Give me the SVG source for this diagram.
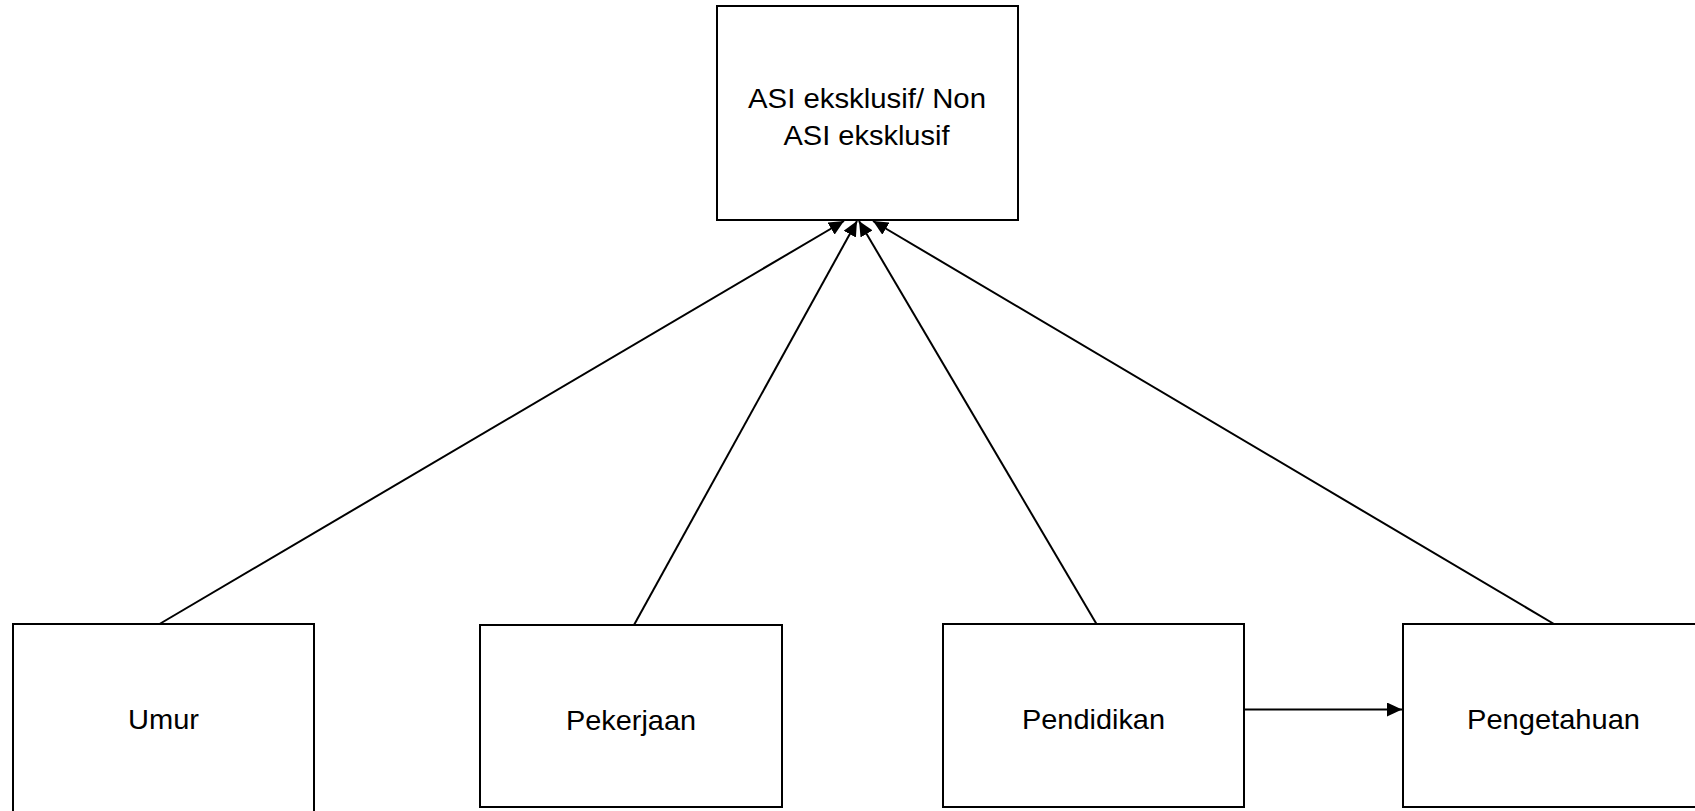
<svg xmlns="http://www.w3.org/2000/svg" width="1695" height="811" viewBox="0 0 1695 811">
<style>
.box{fill:#fff;stroke:#000;stroke-width:2}
.lbl{font-family:"Liberation Sans",Arial,sans-serif;font-size:28px;fill:#000;text-anchor:middle}
.conn{stroke:#000;stroke-width:2;fill:none;marker-end:url(#ah)}
</style>
<defs>
<marker id="ah" markerUnits="userSpaceOnUse" markerWidth="16" markerHeight="14" refX="15" refY="7" orient="auto">
<path d="M0,0 L15,7 L0,14 Z" fill="#000"/>
</marker>
</defs>
<rect width="1695" height="811" fill="#fff"/>
<g id="node-asi">
<rect class="box" x="717" y="6" width="301" height="214"/>
<text class="lbl" x="867" y="107.5" textLength="238" lengthAdjust="spacingAndGlyphs">ASI eksklusif/ Non</text>
<text class="lbl" x="866.5" y="145" textLength="166" lengthAdjust="spacingAndGlyphs">ASI eksklusif</text>
</g>
<g id="node-umur">
<rect class="box" x="13" y="624" width="301" height="200"/>
<text class="lbl" x="163.5" y="728.5" textLength="71" lengthAdjust="spacingAndGlyphs">Umur</text>
</g>
<g id="node-pekerjaan">
<rect class="box" x="480" y="625" width="302" height="182"/>
<text class="lbl" x="631" y="729.5" textLength="130" lengthAdjust="spacingAndGlyphs">Pekerjaan</text>
</g>
<g id="node-pendidikan">
<rect class="box" x="943" y="624" width="301" height="183"/>
<text class="lbl" x="1093.5" y="728.5" textLength="143" lengthAdjust="spacingAndGlyphs">Pendidikan</text>
</g>
<g id="node-pengetahuan">
<rect class="box" x="1403" y="624" width="320" height="183"/>
<text class="lbl" x="1553.5" y="728.5" textLength="173" lengthAdjust="spacingAndGlyphs">Pengetahuan</text>
</g>
<g id="connectors">
<line class="conn" x1="159.5" y1="624" x2="844" y2="221"/>
<line class="conn" x1="634" y1="625" x2="857" y2="221"/>
<line class="conn" x1="1096.5" y1="624" x2="859" y2="221"/>
<line class="conn" x1="1554" y1="624" x2="873" y2="221"/>
<line class="conn" x1="1244" y1="709.5" x2="1402" y2="709.5"/>
</g>
</svg>
